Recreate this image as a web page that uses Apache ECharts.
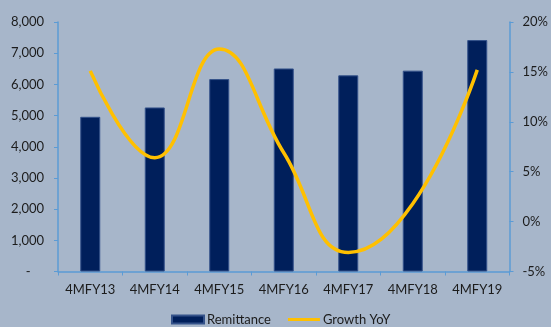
<!DOCTYPE html>
<html>
<head>
<meta charset="utf-8">
<script src="https://cdn.jsdelivr.net/npm/echarts@6/dist/echarts.min.js"></script>
<style>
  html, body { margin: 0; padding: 0; background: #A7B6CA; }
  #chart { width: 551px; height: 327px; }
</style>
</head>
<body>
<div id="chart"></div>
<script>
// Four-month remittance inflows and their year-on-year growth
var categories = ['4MFY13', '4MFY14', '4MFY15', '4MFY16', '4MFY17', '4MFY18', '4MFY19'];
var remittance = [4960, 5260, 6170, 6510, 6290, 6440, 7420];
var growthYoY = [15.1, 6.4, 17.3, 6.9, -3.1, 1.8, 15.2];

var leftTicks = { min: 0, max: 8000, interval: 1000 };
var rightTicks = { min: -5, max: 20, interval: 5 };

var FONT = 'Lato, "Open Sans", sans-serif';
var TEXT = '#1c1c1c';
var AXIS = '#5B9BD5';

var chart = echarts.init(document.getElementById('chart'), null, { renderer: 'canvas' });

chart.setOption({
  backgroundColor: '#A7B6CA',
  animation: false,
  grid: { left: 58, right: 37, top: 22, bottom: 55.5, containLabel: false },
  legend: {
    top: 313,
    left: 171,
    padding: 0,
    itemWidth: 32,
    itemHeight: 8,
    itemGap: 17,
    textStyle: { fontFamily: FONT, fontSize: 13, color: TEXT, padding: [0, 0, 0, -2] },
    data: [
      { name: 'Remittance', icon: 'rect' },
      { name: 'Growth YoY', icon: 'path://M0,0 H32 V3 H0 Z' }
    ]
  },
  xAxis: {
    type: 'category',
    data: categories,
    boundaryGap: true,
    axisLine: { lineStyle: { color: AXIS, width: 1.5 } },
    axisTick: { show: true, alignWithLabel: false, interval: 0, length: 4, lineStyle: { color: AXIS } },
    axisLabel: { interval: 0, margin: 12, fontFamily: FONT, fontSize: 13, color: TEXT }
  },
  yAxis: [
    {
      type: 'value',
      min: leftTicks.min, max: leftTicks.max, interval: leftTicks.interval,
      splitLine: { show: false },
      axisLine: { show: true, lineStyle: { color: AXIS, width: 1.5 } },
      axisTick: { show: true, length: 4, lineStyle: { color: AXIS } },
      axisLabel: {
        margin: 14, fontFamily: FONT, fontSize: 13, color: TEXT,
        formatter: function (v) {
          return v === 0 ? '-    ' : v.toLocaleString('en-US');
        }
      }
    },
    {
      type: 'value',
      min: rightTicks.min, max: rightTicks.max, interval: rightTicks.interval,
      splitLine: { show: false },
      axisLine: { show: true, lineStyle: { color: AXIS, width: 1.5 } },
      axisTick: { show: true, length: 4, lineStyle: { color: AXIS } },
      axisLabel: {
        margin: 13, fontFamily: FONT, fontSize: 13, color: TEXT,
        formatter: '{value}%'
      }
    }
  ],
  series: [
    {
      name: 'Remittance',
      type: 'bar',
      data: remittance,
      barWidth: 20,
      itemStyle: { color: '#001F5B', borderColor: '#34528A', borderWidth: 1 }
    },
    {
      name: 'Growth YoY',
      type: 'line',
      yAxisIndex: 1,
      data: growthYoY,
      smooth: 0.45,
      symbol: 'none',
      lineStyle: { color: '#FFC000', width: 3.5 },
      itemStyle: { color: '#FFC000' }
    }
  ]
});
</script>
</body>
</html>
